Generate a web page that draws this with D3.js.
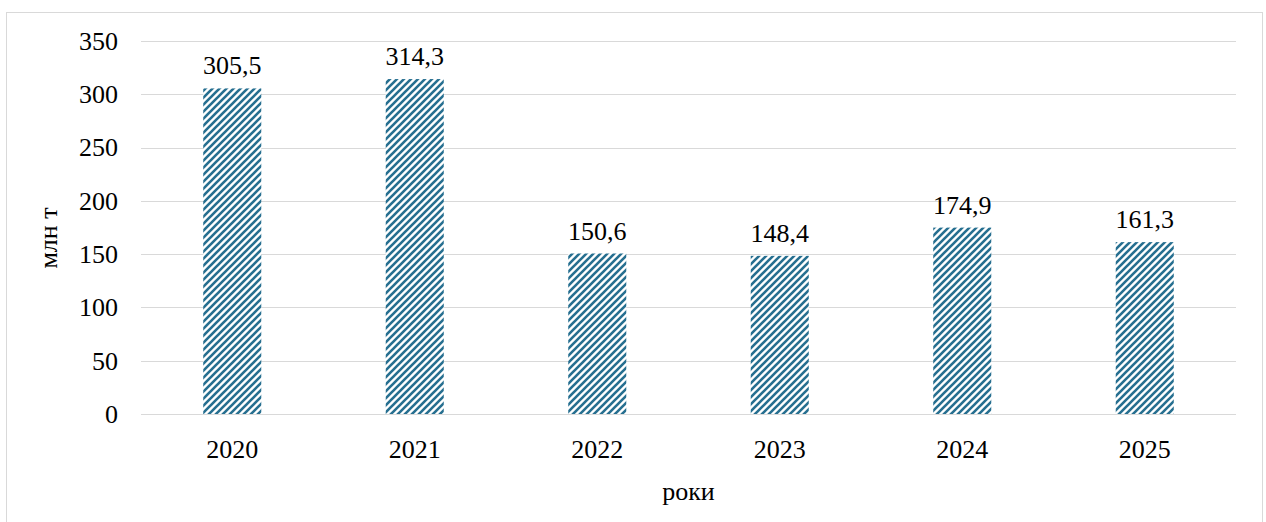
<!DOCTYPE html>
<html>
<head>
<meta charset="utf-8">
<script src="https://cdn.jsdelivr.net/npm/d3@7/dist/d3.min.js"></script>
</head>
<body style="margin:0">
<svg id="chart" width="1266" height="522" style="display:block"></svg>
<script>
// Annual volumes, million tonnes
const years = ["2020", "2021", "2022", "2023", "2024", "2025"];
const volumes = [305.5, 314.3, 150.6, 148.4, 174.9, 161.3];
const valueLabels = ["305,5", "314,3", "150,6", "148,4", "174,9", "161,3"];
const yTicks = [0, 50, 100, 150, 200, 250, 300, 350];
const yTitle = "млн т";
const xTitle = "роки";

const plot = { left: 141, right: 1236, top: 41, bottom: 414 };
const FONT = "Liberation Serif";

const svg = d3.select("#chart");

// Hatch fill for the bars: upward diagonal stripes
const defs = svg.append("defs");
const pat = defs.append("pattern")
  .attr("id", "hatch")
  .attr("patternUnits", "userSpaceOnUse")
  .attr("width", 7).attr("height", 7);
pat.append("rect").attr("width", 7).attr("height", 7).attr("fill", "#ffffff");
pat.append("path")
  .attr("d", "M-1,8 L8,-1 M-4.5,4.5 L4.5,-4.5 M2.5,11.5 L11.5,2.5")
  .attr("stroke", "#266f90")
  .attr("stroke-width", 2.6);

// Outer chart frame
svg.append("rect")
  .attr("x", 6.5).attr("y", 12.5)
  .attr("width", 1256).attr("height", 530)
  .attr("fill", "#ffffff")
  .attr("stroke", "#d9d9d9")
  .attr("stroke-width", 1);

const x = d3.scaleBand()
  .domain(years)
  .range([plot.left, plot.right])
  .paddingInner(0.682)
  .paddingOuter(0.341);

const y = d3.scaleLinear()
  .domain([0, 350])
  .range([plot.bottom, plot.top]);

// Horizontal gridlines
svg.append("g")
  .selectAll("line")
  .data(yTicks)
  .join("line")
  .attr("x1", plot.left).attr("x2", plot.right)
  .attr("y1", d => Math.round(y(d)) + 0.5)
  .attr("y2", d => Math.round(y(d)) + 0.5)
  .attr("stroke", "#d9d9d9")
  .attr("stroke-width", 1.2);

// Y axis labels
const gy = svg.append("g")
  .attr("transform", `translate(${plot.left},0)`)
  .call(d3.axisLeft(y).tickValues(yTicks).tickSize(0).tickPadding(23));
gy.select(".domain").remove();
gy.attr("font-family", null).attr("font-size", null);

// Bars
svg.append("g")
  .selectAll("rect")
  .data(years)
  .join("rect")
  .attr("x", d => x(d))
  .attr("width", x.bandwidth())
  .attr("y", (d, i) => y(volumes[i]))
  .attr("height", (d, i) => y(0) - y(volumes[i]))
  .attr("fill", "url(#hatch)");

// Value labels above bars
svg.append("g")
  .selectAll("text")
  .data(years)
  .join("text")
  .attr("x", d => x(d) + x.bandwidth() / 2)
  .attr("y", (d, i) => y(volumes[i]) - 14)
  .attr("text-anchor", "middle")
  .text((d, i) => valueLabels[i]);

// X axis labels
const gx = svg.append("g")
  .attr("transform", `translate(0,${plot.bottom})`)
  .call(d3.axisBottom(x).tickSize(0).tickPadding(26));
gx.select(".domain").remove();
gx.attr("font-family", null).attr("font-size", null);

// Axis titles
svg.append("text")
  .attr("x", (plot.left + plot.right) / 2)
  .attr("y", 500)
  .attr("text-anchor", "middle")
  .text(xTitle);

svg.append("text")
  .attr("transform", "translate(57,238) rotate(-90)")
  .attr("text-anchor", "middle")
  .text(yTitle);

// Shared text styling
svg.selectAll("text")
  .style("font-family", `"${FONT}"`)
  .attr("font-size", 26)
  .attr("fill", "#000");
</script>
</body>
</html>
